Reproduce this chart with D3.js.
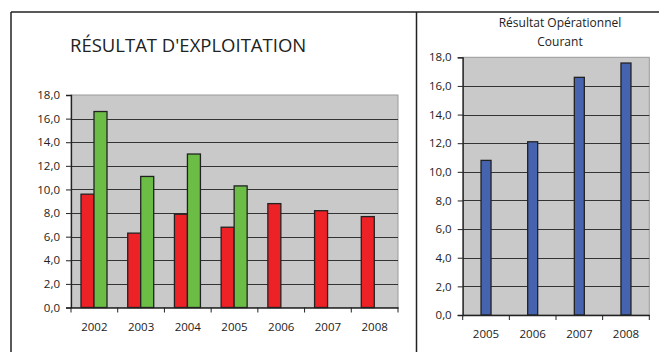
<!DOCTYPE html>
<html>
<head>
<meta charset="utf-8">
<script src="https://cdn.jsdelivr.net/npm/d3@7"></script>
<style>
  body { margin: 0; background: #fff; }
  text { font-family: "Open Sans", "Noto Sans", sans-serif; fill: #222; }
</style>
</head>
<body>
<div id="chart"></div>
<script>
// données du graphique de gauche
const years = ['2002', '2003', '2004', '2005', '2006', '2007', '2008'];
const redValues = [9.6, 6.3, 7.9, 6.8, 8.8, 8.2, 7.7];
const greenValues = [16.6, 11.1, 13.0, 10.3, null, null, null];
// données du graphique de droite
const ropYears = ['2005', '2006', '2007', '2008'];
const ropValues = [10.8, 12.1, 16.6, 17.6];
const yTicks = [0, 2, 4, 6, 8, 10, 12, 14, 16, 18];

const width = 659, height = 352;
const fmt = d => d3.format('.1f')(d).replace('.', ',');

const svg = d3.select('#chart').append('svg')
    .attr('width', width)
    .attr('height', height);

// cadres
svg.append('line').attr('x1', 11).attr('x2', width).attr('y1', 12).attr('y2', 12)
    .attr('stroke', '#222').attr('stroke-width', 1.5);
svg.append('line').attr('x1', 11).attr('x2', 11).attr('y1', 12).attr('y2', height)
    .attr('stroke', '#222').attr('stroke-width', 1.5);
svg.append('line').attr('x1', 416.5).attr('x2', 416.5).attr('y1', 12).attr('y2', height)
    .attr('stroke', '#222').attr('stroke-width', 1.5);

function drawPanel(opt) {
    const g = svg.append('g');
    const x = d3.scaleBand().domain(opt.cats).range([opt.left, opt.right]);
    const y = d3.scaleLinear().domain([0, 18]).range([opt.bottom, opt.top]);

    g.append('rect')
        .attr('x', opt.left).attr('y', opt.top)
        .attr('width', opt.right - opt.left).attr('height', opt.bottom - opt.top)
        .attr('fill', '#c9c9ca')
        .attr('stroke', '#9a9a9a').attr('stroke-width', 1);

    // lignes de grille
    g.selectAll('.grid')
        .data(yTicks.slice(1, -1))
        .enter()
        .append('line')
            .attr('x1', opt.left).attr('x2', opt.right)
            .attr('y1', d => Math.round(y(d)) + 0.5).attr('y2', d => Math.round(y(d)) + 0.5)
            .attr('stroke', '#333').attr('stroke-width', 1);

    opt.bars(g, x, y);

    // axe Y
    const yAxis = g.append('g')
        .attr('transform', `translate(${opt.left},0)`)
        .call(d3.axisLeft(y).tickValues(yTicks).tickFormat(fmt).tickSize(5).tickPadding(6));
    yAxis.select('.domain').attr('stroke', '#222').attr('stroke-width', 1.3);
    yAxis.selectAll('.tick line').attr('stroke', '#222');
    yAxis.selectAll('text').attr('font-size', 11.5).attr('fill', '#222')
        .attr('font-family', '"Open Sans", sans-serif');

    // axe X
    const xAxis = g.append('g')
        .attr('transform', `translate(0,${opt.bottom})`)
        .call(d3.axisBottom(x).tickSize(0).tickPadding(15));
    xAxis.select('.domain').attr('stroke', '#222').attr('stroke-width', 1.3);
    xAxis.selectAll('text').attr('font-size', 11.5).attr('fill', '#222')
        .attr('font-family', '"Open Sans", sans-serif');
    // petites graduations entre les catégories
    g.selectAll('.xtick')
        .data(opt.cats.concat(['end']))
        .enter()
        .append('line')
            .attr('x1', (d, i) => opt.left + i * x.step())
            .attr('x2', (d, i) => opt.left + i * x.step())
            .attr('y1', opt.bottom).attr('y2', opt.bottom + 5)
            .attr('stroke', '#222');
    return g;
}

// graphique de gauche
drawPanel({
    cats: years, left: 71, right: 398, top: 95, bottom: 307.5,
    bars: (g, x, y) => {
        const bw = 13;
        g.selectAll('.red')
            .data(redValues)
            .enter()
            .append('rect')
                .attr('x', (d, i) => x(years[i]) + 10)
                .attr('y', d => y(d))
                .attr('width', bw)
                .attr('height', d => y(0) - y(d))
                .attr('fill', '#ec2227')
                .attr('stroke', '#222').attr('stroke-width', 1.3);
        g.selectAll('.green')
            .data(greenValues)
            .enter()
            .filter(d => d != null)
            .append('rect')
                .attr('x', (d, i) => x(years[i]) + 10 + bw)
                .attr('y', d => y(d))
                .attr('width', bw)
                .attr('height', d => y(0) - y(d))
                .attr('fill', '#6cbd45')
                .attr('stroke', '#222').attr('stroke-width', 1.3);
    }
});

svg.append('text')
    .attr('x', 70).attr('y', 52)
    .attr('font-size', 18.5)
    .text("RÉSULTAT D'EXPLOITATION");

// graphique de droite
drawPanel({
    cats: ropYears, left: 462.7, right: 649.3, top: 57.3, bottom: 315,
    bars: (g, x, y) => {
        const bw = 10;
        g.selectAll('.blue')
            .data(ropValues)
            .enter()
            .append('rect')
                .attr('x', (d, i) => x(ropYears[i]) + x.bandwidth() / 2 - bw / 2)
                .attr('y', d => y(d))
                .attr('width', bw)
                .attr('height', d => y(0) - y(d))
                .attr('fill', '#4563ae')
                .attr('stroke', '#222').attr('stroke-width', 1.3);
    }
});

svg.append('text')
    .attr('x', 560).attr('y', 27)
    .attr('text-anchor', 'middle')
    .attr('font-size', 12)
    .text('Résultat Opérationnel');
svg.append('text')
    .attr('x', 560).attr('y', 46)
    .attr('text-anchor', 'middle')
    .attr('font-size', 12)
    .text('Courant');
</script>
</body>
</html>
